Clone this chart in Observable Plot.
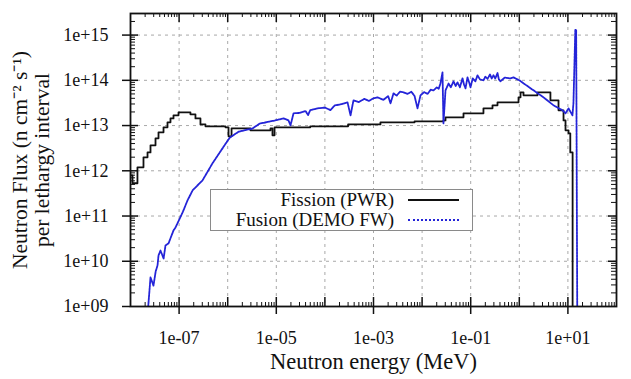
<!DOCTYPE html>
<html><head><meta charset="utf-8">
<script src="https://cdn.jsdelivr.net/npm/d3@7"></script>
<script src="https://cdn.jsdelivr.net/npm/@observablehq/plot@0.6"></script>
<style>
body{margin:0;background:#fff;}
#wrap{position:relative;width:631px;height:379px;font-family:"Liberation Serif","Times New Roman",serif;color:#111;}
#wrap svg, #wrap svg text{font-family:"Liberation Serif","Times New Roman",serif !important;}
#legend{position:absolute;left:210px;top:189px;width:261px;height:40px;border:1px solid #8a8a8a;background:#fff;}
.lrow{position:absolute;left:0;width:261px;height:20px;}
.ltext{position:absolute;right:78px;top:0;font-size:19px;line-height:20px;white-space:nowrap;}
.lsample{position:absolute;left:197px;top:9px;width:51px;height:0;}
</style></head><body><div id="wrap"></div>
<script>
const fissionE = [1e-8,1.10e-8,1.39e-8,1.85e-8,2.24e-8,2.58e-8,3.27e-8,3.77e-8,4.78e-8,5.77e-8,6.65e-8,7.67e-8,9.73e-8,1.36e-7,1.71e-7,2.17e-7,2.75e-7,3.49e-7,9.0e-7,1.04e-6,1.20e-6,2.94e-6,7.6e-6,8.34e-6,9.2e-6,5.0e-5,3.0e-4,1.39e-3,7.0e-3,2.75e-2,3.03e-2,7.11e-2,0.183,0.281,0.356,0.964,1.06,1.22,2.37,3.99,4.37,6.41,8.13,8.93,10.3,11.2,12.5];
const fissionF = [7.9e11,5.3e11,1.19e12,1.98e12,2.55e12,3.65e12,5.21e12,7.08e12,9.12e12,1.18e13,1.44e13,1.68e13,1.96e13,1.96e13,1.77e13,1.44e13,1.06e13,9.6e12,9.12e12,5.77e12,8.67e12,7.83e12,8.67e12,6.07e12,9.12e12,9.6e12,1.06e13,1.18e13,1.24e13,1.30e13,1.52e13,1.86e13,2.40e13,2.80e13,3.26e13,4.21e13,5.43e13,4.66e13,5.43e13,5.43e13,3.61e13,2.17e13,1.30e13,7.83e12,6.72e12,2.55e12,5e8];
const fusionE = [2.2e-8,2.34e-8,2.58e-8,2.97e-8,3.3e-8,3.60e-8,3.77e-8,4.14e-8,4.8e-8,5.25e-8,6.05e-8,7.67e-8,8.43e-8,1.18e-7,1.49e-7,1.89e-7,3.03e-7,4.86e-7,7.82e-7,1.1e-6,1.67e-6,2.4e-6,3.24e-6,4.5e-6,6.59e-6,9.5e-6,1.41e-5,1.78e-5,1.96e-5,2.26e-5,3.0e-5,4.0e-5,4.5e-5,5.0e-5,7.05e-5,1.0e-4,1.3e-4,1.6e-4,2.0e-4,2.5e-4,2.92e-4,3.37e-4,3.87e-4,5.0e-4,6.5e-4,8.0e-4,1.0e-3,1.21e-3,1.6e-3,2.0e-3,2.24e-3,2.58e-3,3.0e-3,3.5e-3,4.14e-3,5.0e-3,6.0e-3,7.0e-3,8.04e-3,9.27e-3,1.1e-2,1.3e-2,1.5e-2,1.72e-2,2.0e-2,2.2e-2,2.39e-2,2.63e-2,2.75e-2,3.03e-2,3.5e-2,3.9e-2,4.43e-2,4.9e-2,5.35e-2,6.0e-2,6.78e-2,7.3e-2,7.82e-2,8.59e-2,9.3e-2,9.91e-2,0.11,0.125,0.138,0.155,0.183,0.2,0.222,0.25,0.27,0.294,0.32,0.356,0.38,0.41,0.5,0.659,0.76,1.0,1.22,1.96,3.15,5.06,7.74,8.93,10.3,12.4,13.0,14.2,14.8,15.6];
const fusionF = [5e8,1.16e9,4.4e9,2.9e9,6e9,8.1e9,1.34e10,1.73e10,1.15e10,2.24e10,2.48e10,4.8e10,5.59e10,1.20e11,2.21e11,3.68e11,6.13e11,1.46e12,3.13e12,5.4e12,7.3e12,8.0e12,8.6e12,1.1e13,1.2e13,1.3e13,1.44e13,1.30e13,1.01e13,1.86e13,1.9e13,2.1e13,1.7e13,2.2e13,2.4e13,2.5e13,2.2e13,2.8e13,2.9e13,3.1e13,3.26e13,1.68e13,3.61e13,3.3e13,3.9e13,3.5e13,4.0e13,4.21e13,3.7e13,4.5e13,3.10e13,5.15e13,4.6e13,5.6e13,5.43e13,5.0e13,5.6e13,4.5e13,2.40e13,4.66e13,5.5e13,5.0e13,6.2e13,6.0e13,7.0e13,6.5e13,8.6e13,1.50e14,1.12e13,6.0e13,8.5e13,7.0e13,9.5e13,7.5e13,9.0e13,7.0e13,1.11e14,8.0e13,6.65e13,1.16e14,9.0e13,7.0e13,1.1e14,9.5e13,1.29e14,1.05e14,1.0e14,1.2e14,1.08e14,1.35e14,1.1e14,1.29e14,1.1e14,1.45e14,1.05e14,9.5e13,1.15e14,1.1e14,1.16e14,1.0e14,8.6e13,6.0e13,4.2e13,2.8e13,2.17e13,1.86e13,2.40e13,1.68e13,3.1e13,1.3e15,1.3e15,5e8];
const xLabelTicks = [1e-7,1e-5,1e-3,1e-1,1e1];
const xDecades = [1e-7,1e-6,1e-5,1e-4,1e-3,1e-2,1e-1,1e0,1e1];
const yLabelTicks = [1e9,1e10,1e11,1e12,1e13,1e14,1e15];
const yGrid = [1e10,1e11,1e12,1e13,1e14,1e15];
const seriesNames = ["Fission (PWR)","Fusion (DEMO FW)"];
const xTitle = "Neutron energy (MeV)";
const yTitle1 = "Neutron Flux (n cm\u207B\u00B2 s\u207B\u00B9)";
const yTitle2 = "per lethargy interval";

const fission = fissionE.map((e,i)=>({e, f: fissionF[i]}));
const fusion = fusionE.map((e,i)=>({e, f: fusionF[i]}));
const xMinor = []; for (let k=-8;k<2;k++) for (let m=2;m<10;m++) xMinor.push(m*Math.pow(10,k));
const yMinor = []; for (let k=9;k<16;k++) for (let m=2;m<10;m++) { const v=m*Math.pow(10,k); if (v<3e15) yMinor.push(v); }
const fmt = d => { const e = Math.round(Math.log10(d)); return "1e" + (e<0?"-":"+") + String(Math.abs(e)).padStart(2,"0"); };

const W = 631, H = 379, mL = 130, mR = 15, mT = 13, mB = 73;
const fw = W - mL - mR, fh = H - mT - mB;
const blue = "#2424d8";
const serif = "'Liberation Serif','Times New Roman',serif";
const gridStyle = {stroke:"#a8a8a8", strokeDasharray:"3,4", strokeWidth:1};

const plot = Plot.plot({
  width: W, height: H, marginLeft: mL, marginRight: mR, marginTop: mT, marginBottom: mB,
  style: {fontFamily: serif, color: "#111", background: "#fff"},
  x: {type: "log", domain: [1e-8, 1e2]},
  y: {type: "log", domain: [1e9, 3e15]},
  marks: [
    Plot.ruleX(xDecades, {x: d=>d, ...gridStyle}),
    Plot.ruleY(yGrid, {y: d=>d, ...gridStyle}),
    Plot.line(fission, {x:"e", y:"f", curve:"step-after", stroke:"#111", strokeWidth:1.8, clip:true}),
    Plot.line(fusion, {x:"e", y:"f", stroke:blue, strokeWidth:1.8, strokeDasharray:"2.5,0.8", clip:true}),
    Plot.tickX(xMinor, {x:d=>d, insetTop: fh-4, stroke:"#111"}),
    Plot.tickX(xMinor, {x:d=>d, insetBottom: fh-4, stroke:"#111"}),
    Plot.tickX(xDecades, {x:d=>d, insetTop: fh-9, stroke:"#111", strokeWidth:1.5}),
    Plot.tickX(xDecades, {x:d=>d, insetBottom: fh-9, stroke:"#111", strokeWidth:1.5}),
    Plot.tickY(yMinor, {y:d=>d, insetRight: fw-5, stroke:"#111"}),
    Plot.tickY(yMinor, {y:d=>d, insetLeft: fw-5, stroke:"#111"}),
    Plot.tickY(yGrid, {y:d=>d, insetRight: fw-8, stroke:"#111", strokeWidth:1.5}),
    Plot.tickY(yGrid, {y:d=>d, insetLeft: fw-8, stroke:"#111", strokeWidth:1.5}),
    Plot.axisX({ticks: xLabelTicks, tickFormat: fmt, tickSize: 8, tickPadding: 17, fontSize: 18, fontFamily: serif, label: null, strokeWidth: 1.5}),
    Plot.axisY({ticks: yLabelTicks, tickFormat: fmt, tickSize: 8, tickPadding: 14, fontSize: 18, fontFamily: serif, label: null, strokeWidth: 1.5}),
    Plot.text([xTitle], {text:d=>d, frameAnchor:"bottom", dy: 62, fontSize: 22.5, fontFamily: serif}),
    Plot.text([yTitle1], {text:d=>d, frameAnchor:"left", textAnchor:"middle", rotate:-90, dx:-110, fontSize: 21.5, fontFamily: serif}),
    Plot.text([yTitle2], {text:d=>d, frameAnchor:"left", textAnchor:"middle", rotate:-90, dx:-88, fontSize: 21.5, fontFamily: serif}),
    Plot.frame({stroke:"#111", strokeWidth:1.8})
  ]
});
const wrap = document.getElementById("wrap");
wrap.appendChild(plot);

const legend = document.createElement("div");
legend.id = "legend";
const styles = [{color:"#111", dash:"solid", w:2}, {color:blue, dash:"dotted", w:2}];
seriesNames.forEach((name,i)=>{
  const row = document.createElement("div");
  row.className = "lrow"; row.style.top = (i*20) + "px";
  const t = document.createElement("span"); t.className="ltext"; t.textContent = name;
  const s = document.createElement("div"); s.className="lsample";
  s.style.borderTop = `${styles[i].w}px ${styles[i].dash} ${styles[i].color}`;
  row.appendChild(t); row.appendChild(s); legend.appendChild(row);
});
wrap.appendChild(legend);
</script>
</body></html>
